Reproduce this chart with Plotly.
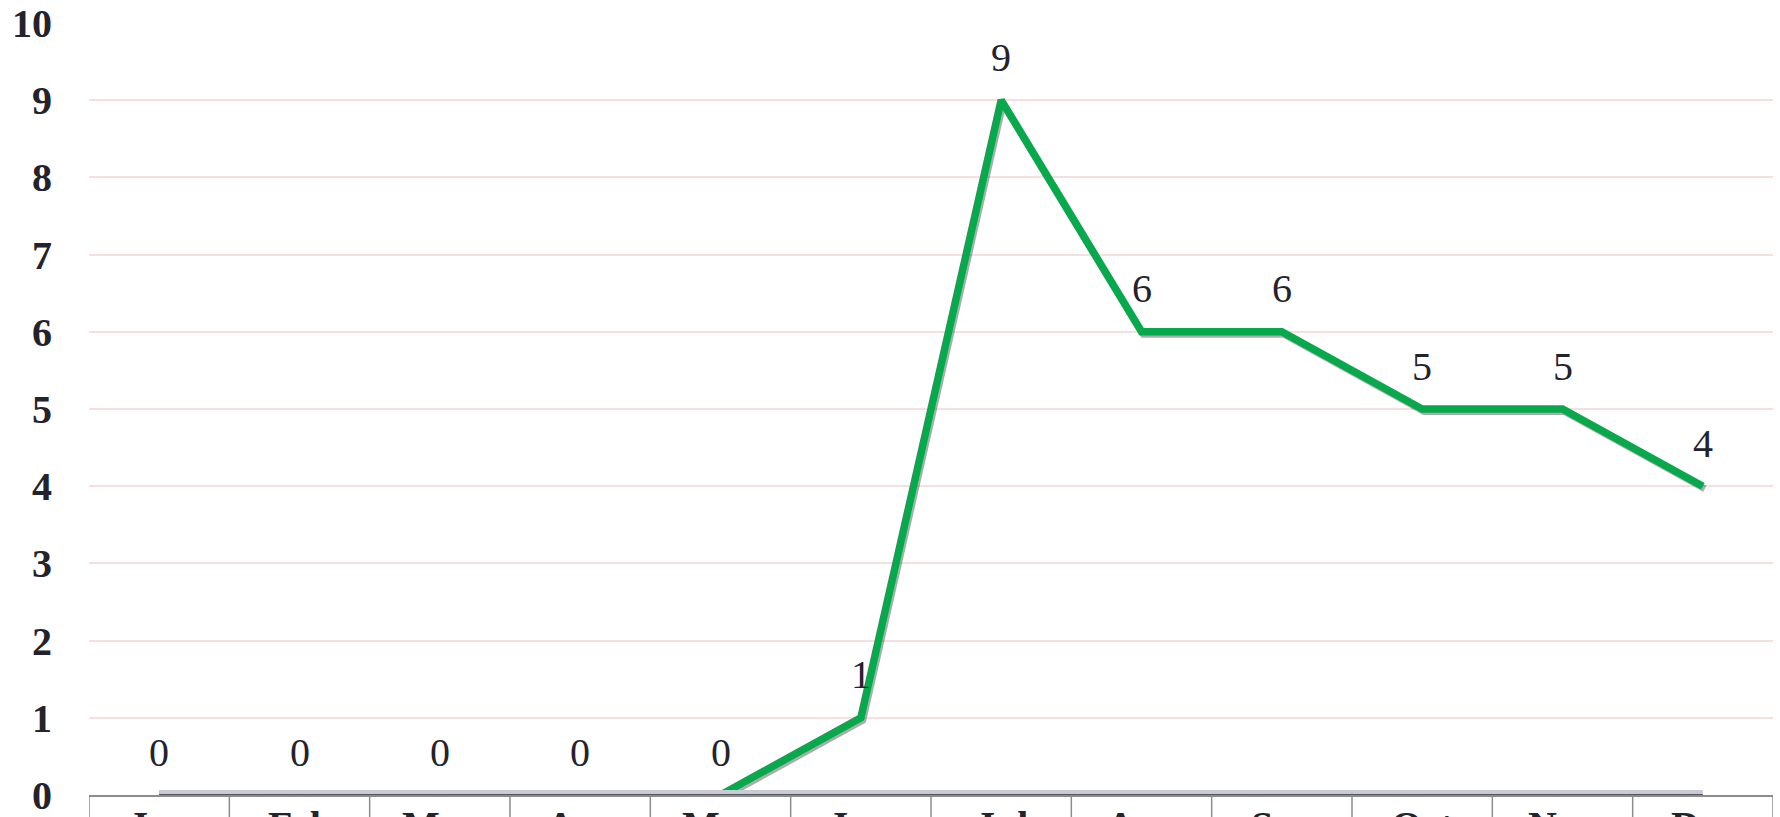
import plotly.graph_objects as go

months = ["Jan", "Feb", "Mar", "Apr", "May", "Jun", "Jul", "Aug", "Sep", "Oct", "Nov", "Dec"]
values = [0, 0, 0, 0, 0, 1, 9, 6, 6, 5, 5, 4]
y_ticks = list(range(0, 11))

SERIF = "Liberation Serif"
TEXT = "#23232d"
GREEN = "#08a84d"

W, H = 1780, 817
ML, MR, MT, MB = 89, 7, 23, 22
px_per_cat = (W - ML - MR) / len(months)
px_per_unit = (H - MT - MB) / 10.0
sx, sy = 2.0 / px_per_cat, 2.5 / px_per_unit  # shadow offset

fig = go.Figure()
fig.add_trace(go.Scatter(
    x=months, y=values, mode="lines", xaxis="x2", yaxis="y2",
    line=dict(color="rgba(70,70,70,0.45)", width=7),
    hoverinfo="skip", showlegend=False, cliponaxis=False,
))
fig.add_trace(go.Scatter(
    x=months, y=values, mode="lines", xaxis="x3", yaxis="y3",
    line=dict(color=GREEN, width=7.5),
    hoverinfo="skip", showlegend=False, cliponaxis=False,
))

annotations = []
for m, v in zip(months, values):
    annotations.append(dict(
        x=m, y=v, xref="x", yref="y", text=str(v), showarrow=False,
        yshift=43, font=dict(family=SERIF, size=40, color=TEXT),
    ))
# month labels in the table row under the axis (cut by the page edge as in the source)
for m in months:
    annotations.append(dict(
        x=m, y=0, xref="x", yref="paper", text=m, showarrow=False,
        yanchor="top", yshift=-6,
        font=dict(family=SERIF, size=40, color=TEXT, weight="bold"),
    ))

shapes = []
shapes.append(dict(type="rect", xref="x", yref="y", x0=0, x1=11,
                   ysizemode="pixel", yanchor=0, y0=0, y1=5,
                   fillcolor="#c7cbd3", line=dict(width=0), layer="above"))
shapes.append(dict(type="line", xref="x", yref="y", x0=0, x1=11, y0=0, y1=0,
                   line=dict(color="#2e2e36", width=1.5), layer="above"))
for i in range(len(months) + 1):
    shapes.append(dict(type="line", xref="x", yref="paper", x0=i - 0.5, x1=i - 0.5,
                       y0=0, y1=-0.12, line=dict(color="#8c8c8c", width=1.5)))

hidden_x = dict(type="category", categoryorder="array", categoryarray=months,
                overlaying="x", visible=False, showgrid=False, zeroline=False)
hidden_y = dict(overlaying="y", visible=False, showgrid=False, zeroline=False)

fig.update_layout(
    width=W, height=H,
    margin=dict(l=ML, r=MR, t=MT, b=MB),
    paper_bgcolor="white", plot_bgcolor="white",
    annotations=annotations, shapes=shapes,
    xaxis=dict(
        type="category", categoryorder="array", categoryarray=months,
        range=[-0.5, 11.5], showgrid=False, zeroline=False,
        showline=True, linecolor="#8c8c8c", linewidth=1.5,
        ticks="", showticklabels=False, automargin=False,
    ),
    yaxis=dict(
        range=[0, 10], tickmode="array", tickvals=y_ticks,
        ticktext=[str(t) for t in y_ticks],
        showgrid=True, gridcolor="#f7dfdf", gridwidth=1.5,
        zeroline=False, showline=False, ticks="", automargin=False,
        ticklabelstandoff=36, ticklabeloverflow="allow",
        tickfont=dict(family=SERIF, size=40, color=TEXT, weight="bold"),
    ),
    xaxis2=dict(hidden_x, range=[-0.5 - sx, 11.5 - sx]),
    yaxis2=dict(hidden_y, range=[0 + sy, 10 + sy]),
    xaxis3=dict(hidden_x, range=[-0.5, 11.5]),
    yaxis3=dict(hidden_y, range=[0, 10]),
)

fig.write_html("out.html")
